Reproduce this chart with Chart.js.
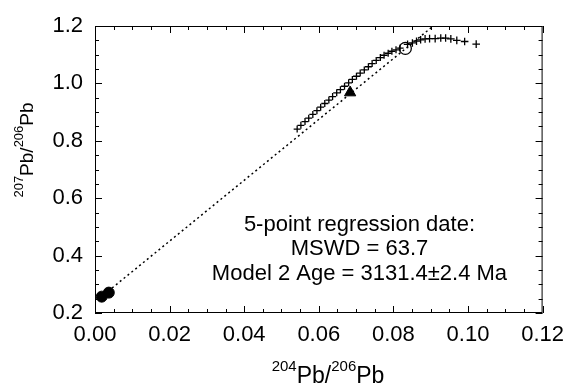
<!DOCTYPE html>
<html>
<head>
<meta charset="utf-8">
<script src="https://cdn.jsdelivr.net/npm/chart.js@4.4.0/dist/chart.umd.min.js"></script>
<style>
  html, body { margin: 0; padding: 0; background: #fff; }
  #wrap { width: 573px; height: 386px; }
</style>
</head>
<body>
<div id="wrap"><canvas id="pbChart" width="573" height="386"></canvas></div>
<script>
// 204Pb/206Pb vs 207Pb/206Pb
const trendX = [0.0542, 0.0552, 0.0563, 0.0573, 0.0584, 0.0595, 0.0605, 0.0616, 0.0627,
                0.0637, 0.0648, 0.0658, 0.0669, 0.0680, 0.0690, 0.0701, 0.0711, 0.0722,
                0.0733, 0.0743, 0.0754, 0.0765, 0.0775, 0.0786, 0.0796, 0.0807, 0.0818];
const trendY = [0.841, 0.854, 0.867, 0.879, 0.892, 0.905, 0.917, 0.930, 0.942,
                0.954, 0.967, 0.978, 0.990, 1.002, 1.014, 1.025, 1.036, 1.047,
                1.058, 1.069, 1.080, 1.090, 1.098, 1.105, 1.112, 1.117, 1.123];

const sparseX = [0.0838, 0.0851, 0.0862, 0.0873, 0.0885, 0.0897, 0.0912, 0.0927, 0.0940,
                 0.0954, 0.0970, 0.0991, 0.1022];
const sparseY = [1.136, 1.141, 1.147, 1.152, 1.155, 1.156, 1.156, 1.158, 1.158,
                 1.155, 1.150, 1.146, 1.137];

const sampleX = [0.0018, 0.0037];
const sampleY = [0.257, 0.271];
const triangleX = [0.0684];
const triangleY = [0.968];
const openX = [0.0832];
const openY = [1.122];

// regression line end points
const regX = [0.0025, 0.0907];
const regY = [0.265, 1.2];

const xTickValues = [0, 0.02, 0.04, 0.06, 0.08, 0.10, 0.12];
const yTickValues = [0.2, 0.4, 0.6, 0.8, 1.0, 1.2];

const noteLines = ['5-point regression date:', 'MSWD = 63.7', 'Model 2 Age = 3131.4\u00b12.4 Ma'];
const noteX = 0.0709;
const noteY = [0.507, 0.423, 0.336];

const FONT = '"Liberation Sans", Arial, sans-serif';

function pts(xs, ys) {
    return xs.map((x, i) => ({ x: x, y: ys[i] }));
}

// frame, inward ticks on all sides, axis titles and the note
const decorations = {
    id: 'decorations',
    afterDraw(chart) {
        const c = chart.ctx;
        const a = chart.chartArea;
        const xs = chart.scales.x;
        const ys = chart.scales.y;
        c.save();
        c.strokeStyle = '#000';
        c.lineWidth = 1;
        c.strokeRect(a.left + 0.5, a.top + 0.5, a.right - a.left - 1, a.bottom - a.top - 1);

        c.beginPath();
        for (let i = 0; i <= 24; i++) {
            const v = i * 0.005;
            const px = Math.round(xs.getPixelForValue(v)) + 0.5;
            const len = i % 4 === 0 ? 7 : 4;
            c.moveTo(px, a.bottom); c.lineTo(px, a.bottom - len);
            c.moveTo(px, a.top); c.lineTo(px, a.top + len);
        }
        for (let i = 0; i <= 20; i++) {
            const v = 0.2 + i * 0.05;
            const py = Math.round(ys.getPixelForValue(v)) + 0.5;
            const len = i % 4 === 0 ? 7 : 4;
            c.moveTo(a.left, py); c.lineTo(a.left + len, py);
            c.moveTo(a.right, py); c.lineTo(a.right - len, py);
        }
        c.stroke();

        c.fillStyle = '#000';
        // x title
        drawSupTitle(c, [['204', true], ['Pb/', false], ['206', true], ['Pb', false]],
                     328, 383, 23, 15, 12);
        // y title (rotated)
        c.save();
        c.translate(33, 150);
        c.rotate(-Math.PI / 2);
        drawSupTitle(c, [['207', true], ['Pb/', false], ['206', true], ['Pb', false]],
                     0, 0, 19, 13, 10);
        c.restore();

        // note
        c.font = '22px ' + FONT;
        c.textAlign = 'center';
        c.textBaseline = 'middle';
        noteLines.forEach((t, i) => {
            c.fillText(t, xs.getPixelForValue(noteX), ys.getPixelForValue(noteY[i]));
        });
        c.restore();
    }
};

function drawSupTitle(c, parts, cx, baseY, mainSize, supSize, raise) {
    let total = 0;
    parts.forEach(p => {
        c.font = (p[1] ? supSize : mainSize) + 'px ' + FONT;
        total += c.measureText(p[0]).width;
    });
    let x = cx - total / 2;
    c.textAlign = 'left';
    c.textBaseline = 'alphabetic';
    parts.forEach(p => {
        c.font = (p[1] ? supSize : mainSize) + 'px ' + FONT;
        c.fillText(p[0], x, p[1] ? baseY - raise : baseY);
        x += c.measureText(p[0]).width;
    });
}

const ctx = document.getElementById('pbChart').getContext('2d');

const chart = new Chart(ctx, {
    type: 'scatter',
    data: {
        datasets: [{
            type: 'line',
            data: pts(regX, regY),
            borderColor: '#000',
            borderWidth: 1.5,
            borderDash: [2, 3],
            pointRadius: 0,
            fill: false
        }, {
            data: pts(trendX, trendY),
            pointStyle: 'cross',
            pointRadius: 3.5,
            borderColor: '#000',
            borderWidth: 1.3,
            backgroundColor: '#000'
        }, {
            data: pts(sparseX, sparseY),
            pointStyle: 'cross',
            pointRadius: 3.8,
            borderColor: '#000',
            borderWidth: 1.3,
            backgroundColor: '#000'
        }, {
            data: pts(sampleX, sampleY),
            pointStyle: 'circle',
            pointRadius: 5.5,
            borderColor: '#000',
            borderWidth: 1,
            backgroundColor: '#000'
        }, {
            data: pts(triangleX, triangleY),
            pointStyle: 'triangle',
            pointRadius: 6.5,
            borderColor: '#000',
            borderWidth: 1,
            backgroundColor: '#000'
        }, {
            data: pts(openX, openY),
            pointStyle: 'circle',
            pointRadius: 6,
            borderColor: '#000',
            borderWidth: 1.3,
            backgroundColor: '#fff'
        }]
    },
    options: {
        responsive: false,
        animation: false,
        devicePixelRatio: 1,
        layout: { padding: { left: 0, top: 26, right: 26, bottom: 0 } },
        plugins: {
            legend: { display: false },
            tooltip: { enabled: false },
            title: { display: false }
        },
        scales: {
            x: {
                type: 'linear',
                min: 0,
                max: 0.12,
                grid: { display: false, drawTicks: false },
                border: { display: false },
                afterBuildTicks: s => { s.ticks = xTickValues.map(v => ({ value: v })); },
                afterFit: s => { s.height = 73; },
                ticks: {
                    padding: 9,
                    color: '#000',
                    maxRotation: 0,
                    font: { family: FONT, size: 22 },
                    callback: v => v.toFixed(2)
                }
            },
            y: {
                type: 'linear',
                min: 0.2,
                max: 1.2,
                grid: { display: false, drawTicks: false },
                border: { display: false },
                afterBuildTicks: s => { s.ticks = yTickValues.map(v => ({ value: v })); },
                afterFit: s => { s.width = 95; },
                ticks: {
                    padding: 12,
                    color: '#000',
                    font: { family: FONT, size: 22 },
                    callback: v => v.toFixed(1)
                }
            }
        }
    },
    plugins: [decorations]
});
</script>
</body>
</html>
